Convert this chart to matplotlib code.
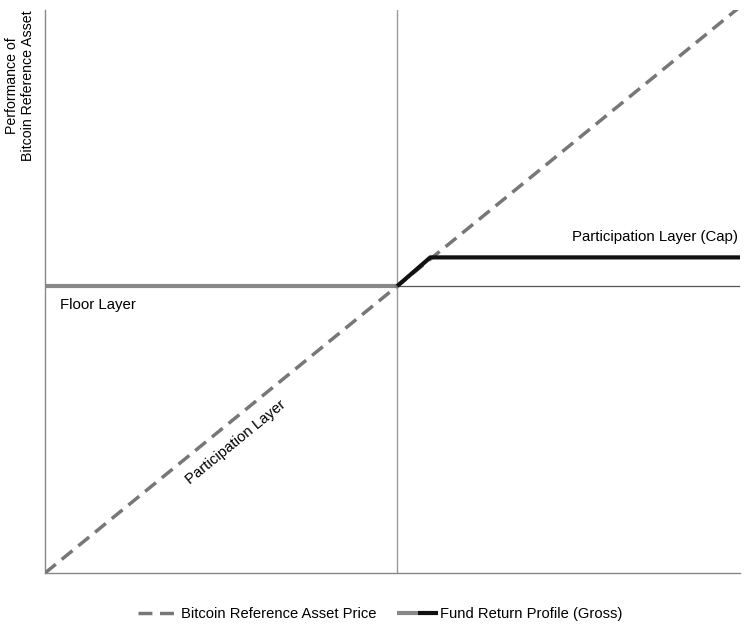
import numpy as np
import matplotlib.pyplot as plt
from matplotlib.lines import Line2D
from matplotlib.legend_handler import HandlerTuple

plt.rcParams["font.family"] = ["Liberation Sans", "DejaVu Sans"]

# bitcoin reference price (diagonal), fund return profile
ref_x = [-1.0, 0.97]
ref_y = [-1.0, 0.97]
floor_x = [-1.0, 0.0]
floor_y = [0.0, 0.0]
cap_x = [0.0, 0.094, 0.974]
cap_y = [0.0, 0.10, 0.10]

fig = plt.figure(figsize=(7.5, 6.29), dpi=100)
ax = fig.add_axes([0.06, 0.089, 0.927, 0.895])
ax.set_xlim(-1, 0.974)
ax.set_ylim(-1, 0.962)

ax.axvline(0, color="#999999", lw=1, zorder=1)
ax.axhline(0, color="#555555", lw=0.9, zorder=1)

ref_line, = ax.plot(ref_x, ref_y, color="#777777", lw=2.5, ls=(0, (4, 2.2)), zorder=3)
floor_line, = ax.plot(floor_x, floor_y, color="#888888", lw=3, zorder=2, solid_capstyle="butt")
cap_line, = ax.plot(cap_x, cap_y, color="#111111", lw=3, zorder=4, solid_capstyle="butt")

for side in ["top", "right"]:
    ax.spines[side].set_visible(False)
for side in ["left", "bottom"]:
    ax.spines[side].set_color("#888888")
    ax.spines[side].set_linewidth(1)
ax.set_xticks([])
ax.set_yticks([])

fs = 10.8
ax.text(-0.958, -0.066, "Floor Layer", fontsize=fs, ha="left", va="center")
ax.text(0.967, 0.172, "Participation Layer (Cap)", fontsize=fs, ha="right", va="center")
ax.text(-0.457, -0.545, "Participation Layer", fontsize=fs, ha="center", va="center",
        rotation=39.2, rotation_mode="anchor")

fig.text(0.027, 0.984, "Performance of\nBitcoin Reference Asset", fontsize=10.2,
         rotation=90, ha="center", va="top", multialignment="center")

ax.legend([ref_line, (floor_line, cap_line)],
          ["Bitcoin Reference Asset Price", "Fund Return Profile (Gross)"],
          handler_map={tuple: HandlerTuple(ndivide=2, pad=0)},
          loc="center", bbox_to_anchor=(0.482, -0.073), ncol=2, frameon=False,
          fontsize=10.6, handlelength=2.8, handletextpad=0.1, columnspacing=1.4)

plt.savefig("out.png", dpi=100)
